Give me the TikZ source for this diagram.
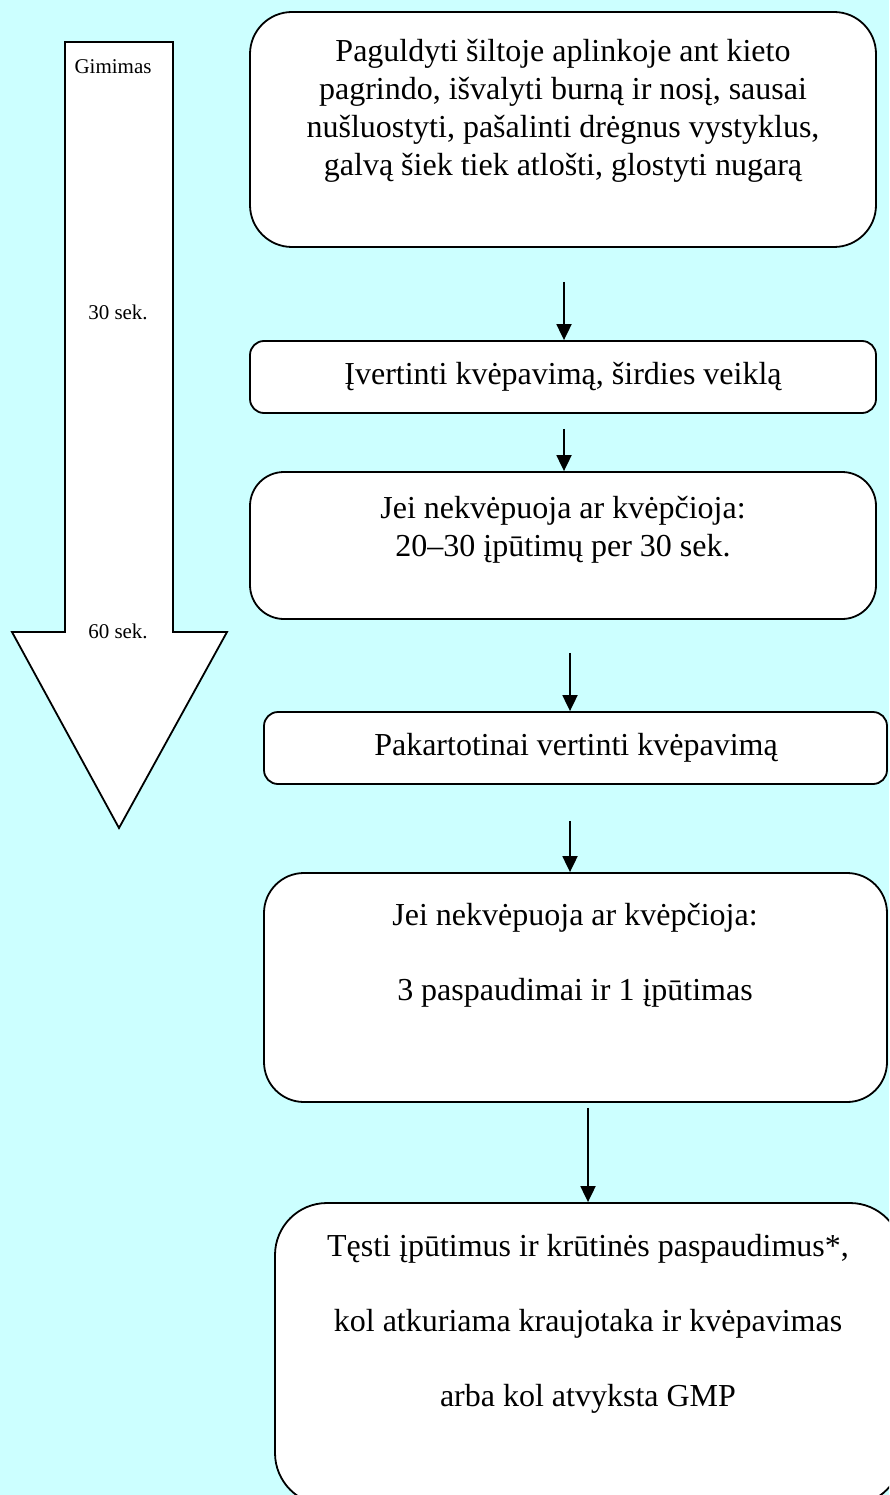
\documentclass[tikz,border=0pt]{standalone}
\usepackage{fontspec}
\setmainfont{Liberation Serif}
\usetikzlibrary{arrows.meta}
\definecolor{bgcyan}{HTML}{CCFFFF}
\tikzset{
  box/.style={draw=black, line width=1.8pt, fill=white, rectangle, inner sep=0pt},
  txt/.style={align=center, inner sep=0pt, font=\fontsize{32}{38}\selectfont},
  small/.style={inner sep=0pt, font=\fontsize{21}{25}\selectfont},
  arr/.style={line width=1.9pt, -{Triangle[length=16pt,width=15pt]}},
}
\begin{document}
\begin{tikzpicture}[x=1pt,y=-1pt]
\useasboundingbox (0,0) rectangle (889,1495);
\clip (0,0) rectangle (889,1495);
\fill[bgcyan] (0,0) rectangle (889,1495);

% timeline arrow
\draw[line width=1.8pt, fill=white, line join=miter]
  (65,42) -- (173,42) -- (173,632) -- (227,632) -- (119,828) -- (12,632) -- (65,632) -- cycle;
\node[small] (t0) at (113,67) {Gimimas};
\node[small] (t30) at (118,312) {30 sek.};
\node[small] (t60) at (118,631) {60 sek.};

% boxes
\node[box, rounded corners=42pt, minimum width=626pt, minimum height=235pt] (b1) at (563,129.5) {};
\node[box, rounded corners=14pt, minimum width=626pt, minimum height=72pt] (b2) at (563,377) {};
\node[box, rounded corners=34pt, minimum width=626pt, minimum height=147pt] (b3) at (563,545.5) {};
\node[box, rounded corners=14pt, minimum width=623pt, minimum height=72pt] (b4) at (575.5,748) {};
\node[box, rounded corners=40pt, minimum width=623pt, minimum height=229pt] (b5) at (575.5,987.5) {};
\node[box, rounded corners=52pt, minimum width=627pt, minimum height=302pt] (b6) at (588.5,1354) {};

% texts
\node[txt] (l1) at (563,111) {Paguldyti šiltoje aplinkoje ant kieto\\ pagrindo, išvalyti burną ir nosį, sausai\\ nušluostyti, pašalinti drėgnus vystyklus,\\ galvą šiek tiek atlošti, glostyti nugarą};
\node[txt] (l2) at (563,377) {Įvertinti kvėpavimą, širdies veiklą};
\node[txt] (l3) at (563,530) {Jei nekvėpuoja ar kvėpčioja:\\ 20–30 įpūtimų per 30 sek.};
\node[txt] (l4) at (576,748) {Pakartotinai vertinti kvėpavimą};
\node[txt] (l5) at (575,955.5) {Jei nekvėpuoja ar kvėpčioja:\\[37pt] 3 paspaudimai ir 1 įpūtimas};
\node[txt] (l6) at (588,1323.5) {Tęsti įpūtimus ir krūtinės paspaudimus*,\\[37pt] kol atkuriama kraujotaka ir kvėpavimas\\[37pt] arba kol atvyksta GMP};

% connectors
\draw[arr] ([xshift=1pt,yshift=-34pt]b1.south) -- ([xshift=1pt]b2.north);
\draw[arr] ([xshift=1pt,yshift=-15pt]b2.south) -- ([xshift=1pt]b3.north);
\draw[arr] ([xshift=7pt,yshift=-33pt]b3.south) -- ([xshift=-5.5pt]b4.north);
\draw[arr] ([xshift=-5.5pt,yshift=-36pt]b4.south) -- ([xshift=-5.5pt]b5.north);
\draw[arr] ([xshift=12.5pt,yshift=-5pt]b5.south) -- ([xshift=-0.5pt]b6.north);
\end{tikzpicture}
\end{document}
